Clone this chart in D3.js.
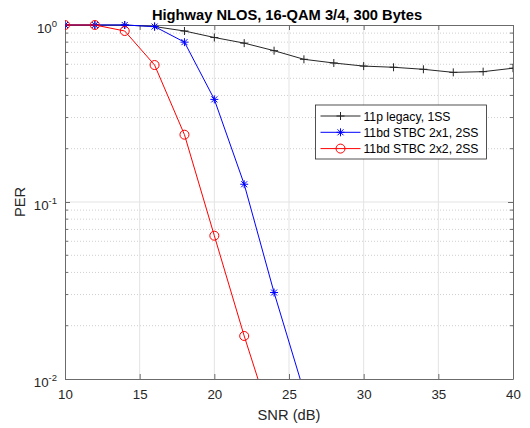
<!DOCTYPE html>
<html>
<head>
  <meta charset="utf-8">
  <script src="https://d3js.org/d3.v7.min.js"></script>
  <style>
    body { margin: 0; background: #fff; }
    svg { display: block; font-family: "Liberation Sans", Arial, sans-serif; }
  </style>
</head>
<body>
  <svg width="530" height="428"></svg>
  <script>
    // data
    var snr = [10, 12, 14, 16, 18, 20, 22, 24, 26, 28, 30, 32, 34, 36, 38, 40];
    var legacy = [1.0, 1.0, 1.0, 0.98, 0.925, 0.85, 0.79, 0.716, 0.64, 0.61, 0.586, 0.577, 0.562, 0.54, 0.545, 0.57];
    var stbc21 = [1.0, 1.0, 1.0, 0.98, 0.80, 0.38, 0.126, 0.0308, 0.0085];
    var stbc22 = [1.0, 1.0, 0.925, 0.594, 0.24, 0.0645, 0.0175, 0.0052];
    var xTicks = [10, 15, 20, 25, 30, 35, 40];
    var yTicks = [1, 0.1, 0.01];
    var yExp = ["0", "-1", "-2"];
    var seriesNames = ["11p legacy, 1SS", "11bd STBC 2x1, 2SS", "11bd STBC 2x2, 2SS"];

    var svg = d3.select("svg");
    // plot box (note: "top" is reserved on window, so use p-prefixed names)
    var pLeft = 65, pTop = 25, pRight = 513, pBottom = 379;

    var x = d3.scaleLinear().domain([10, 40]).range([pLeft, pRight]);
    var y = d3.scaleLog().domain([0.01, 1]).range([pBottom, pTop]);

    //grid lines
    var minor = [];
    [0.01, 0.1].forEach(function(b) {
      for (var k = 2; k <= 9; k++) minor.push(b * k);
    });

    svg.append("g").selectAll("line").data(minor).enter().append("line")
      .attr("x1", pLeft).attr("x2", pRight)
      .attr("y1", function(d) { return y(d); }).attr("y2", function(d) { return y(d); })
      .attr("stroke", "#cfcfcf").attr("stroke-dasharray", "1,2").attr("stroke-width", 1);

    svg.append("g").selectAll("line").data(xTicks.slice(1, -1)).enter().append("line")
      .attr("x1", function(d) { return x(d); }).attr("x2", function(d) { return x(d); })
      .attr("y1", pTop).attr("y2", pBottom)
      .attr("stroke", "#e3e3e3").attr("stroke-width", 1);

    svg.append("line")
      .attr("x1", pLeft).attr("x2", pRight).attr("y1", y(0.1)).attr("y2", y(0.1))
      .attr("stroke", "#e3e3e3").attr("stroke-width", 1);

    //axes with inner ticks
    var axCol = "#6b6b6b";
    var xb = svg.append("g").attr("transform", "translate(0," + pBottom + ")")
      .call(d3.axisBottom(x).tickValues(xTicks).tickSizeInner(-5).tickSizeOuter(0).tickFormat(d3.format("d")));
    var xt = svg.append("g").attr("transform", "translate(0," + pTop + ")")
      .call(d3.axisTop(x).tickValues(xTicks).tickSizeInner(-5).tickSizeOuter(0).tickFormat(""));
    var yl = svg.append("g").attr("transform", "translate(" + pLeft + ",0)")
      .call(d3.axisLeft(y).tickValues(yTicks).tickSizeInner(-5).tickSizeOuter(0).tickFormat(""));
    var yr = svg.append("g").attr("transform", "translate(" + pRight + ",0)")
      .call(d3.axisRight(y).tickValues(yTicks).tickSizeInner(-5).tickSizeOuter(0).tickFormat(""));

    [xb, xt, yl, yr].forEach(function(a) {
      a.select(".domain").attr("stroke", axCol);
      a.selectAll(".tick line").attr("stroke", axCol);
    });
    xb.selectAll(".tick text")
      .attr("y", 11).attr("font-size", 13.3).attr("fill", "#262626")
      .attr("font-family", "Liberation Sans, Arial, sans-serif");

    //minor ticks on y
    [pLeft, pRight].forEach(function(px) {
      var dir = px == pLeft ? 1 : -1;
      svg.append("g").selectAll("line").data(minor).enter().append("line")
        .attr("x1", px).attr("x2", px + dir * 3)
        .attr("y1", function(d) { return y(d); }).attr("y2", function(d) { return y(d); })
        .attr("stroke", axCol);
    });

    //y tick labels with superscripts
    var ylab = svg.append("g").selectAll("text").data(yTicks).enter().append("text")
      .attr("x", pLeft - 8)
      .attr("y", function(d) { return y(d) + 7.5; })
      .attr("text-anchor", "end")
      .attr("font-size", 13.3).attr("fill", "#262626");
    ylab.append("tspan").text("10");
    ylab.append("tspan").attr("dy", -6).attr("font-size", 9.5)
      .text(function(d, i) { return yExp[i]; });

    //series
    svg.append("clipPath").attr("id", "clip").append("rect")
      .attr("x", pLeft).attr("y", pTop - 6).attr("width", pRight - pLeft).attr("height", pBottom - pTop + 6);

    var series = [
      { name: seriesNames[0], values: legacy, color: "#262626", marker: "plus" },
      { name: seriesNames[1], values: stbc21, color: "#0000ff", marker: "star" },
      { name: seriesNames[2], values: stbc22, color: "#ff0000", marker: "circle" }
    ];

    var line = d3.line()
      .x(function(d) { return x(d[0]); })
      .y(function(d) { return y(d[1]); });

    function drawMarker(g, kind, color) {
      if (kind == "plus") {
        g.append("path").attr("d", "M-4,0H4M0,-4V4").attr("stroke", color).attr("fill", "none");
      } else if (kind == "star") {
        g.append("path").attr("d", "M-4,0H4M0,-4V4M-3,-3L3,3M-3,3L3,-3").attr("stroke", color).attr("fill", "none");
      } else {
        g.append("circle").attr("r", 4.5).attr("stroke", color).attr("fill", "none");
      }
    }

    series.forEach(function(s) {
      var pts = s.values.map(function(v, i) { return [snr[i], v]; });
      var g = svg.append("g").attr("clip-path", "url(#clip)");
      g.append("path").datum(pts).attr("d", line)
        .attr("fill", "none").attr("stroke", s.color).attr("stroke-width", 1);
      pts.filter(function(p) { return p[1] >= 0.01; }).forEach(function(p) {
        var m = g.append("g").attr("transform", "translate(" + x(p[0]) + "," + y(p[1]) + ")");
        drawMarker(m, s.marker, s.color);
      });
    });

    //title and axis labels
    svg.append("text").attr("x", (pLeft + pRight) / 2 - 2).attr("y", 20)
      .attr("text-anchor", "middle").attr("font-size", 14.7).attr("font-weight", "bold")
      .attr("fill", "#000").text("Highway NLOS, 16-QAM 3/4, 300 Bytes");

    svg.append("text").attr("x", (pLeft + pRight) / 2).attr("y", 420)
      .attr("text-anchor", "middle").attr("font-size", 14.7).attr("fill", "#262626")
      .text("SNR (dB)");

    svg.append("text").attr("transform", "translate(25," + y(0.1) + ") rotate(-90)")
      .attr("text-anchor", "middle").attr("font-size", 14.7).attr("fill", "#262626")
      .text("PER");

    //legend
    var lg = svg.append("g").attr("transform", "translate(315.5,105)");
    lg.append("rect").attr("width", 171).attr("height", 54)
      .attr("fill", "#fff").attr("stroke", "#262626").attr("stroke-width", 0.8);
    series.forEach(function(s, i) {
      var ry = 11 + i * 16.3;
      lg.append("line").attr("x1", 5).attr("x2", 45).attr("y1", ry).attr("y2", ry)
        .attr("stroke", s.color);
      var m = lg.append("g").attr("transform", "translate(25," + ry + ")");
      drawMarker(m, s.marker, s.color);
      lg.append("text").attr("x", 48).attr("y", ry + 4.5)
        .attr("font-size", 12.2).attr("fill", "#000").text(s.name);
    });
  </script>
</body>
</html>
